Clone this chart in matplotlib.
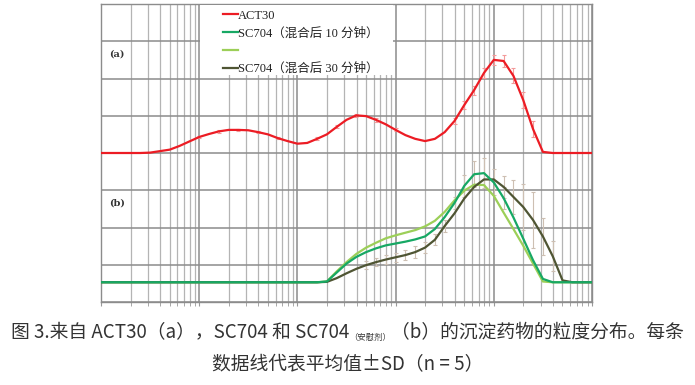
import numpy as np
import matplotlib
matplotlib.use('Agg')
import matplotlib.pyplot as plt
from matplotlib.lines import Line2D
from matplotlib.patches import Rectangle
from matplotlib.ticker import LogLocator, NullFormatter

# particle size bins (10 per decade, um) and volume fractions
bins = np.logspace(-2, 3, 51)

act30 = [0, 0, 0, 0, 0, 0.01, 0.05, 0.09, 0.19, 0.31,
         0.43, 0.51, 0.58, 0.62, 0.62, 0.61, 0.56, 0.50, 0.40, 0.32,
         0.25, 0.27, 0.38, 0.50, 0.70, 0.89, 1.01, 0.99, 0.89, 0.77,
         0.62, 0.48, 0.38, 0.32, 0.38, 0.56, 0.86, 1.29, 1.69, 2.15,
         2.50, 2.47, 2.07, 1.42, 0.64, 0.03, 0, 0, 0, 0, 0]
sc704_10 = [0] * 23 + [0.02, 0.26, 0.50, 0.68, 0.81, 0.91, 0.99,
                       1.04, 1.09, 1.15, 1.23, 1.43, 1.75, 2.13, 2.59, 2.90, 2.93,
                       2.68, 2.26, 1.74, 1.17, 0.59, 0.09, 0, 0, 0, 0, 0]
sc704_placebo = [0] * 23 + [0.02, 0.29, 0.54, 0.76, 0.93, 1.06, 1.18,
                            1.26, 1.33, 1.40, 1.50, 1.65, 1.89, 2.20, 2.46, 2.62, 2.61,
                            2.32, 1.87, 1.43, 0.98, 0.50, 0.02, 0, 0, 0, 0, 0]
sc704_30 = [0] * 23 + [0.01, 0.11, 0.24, 0.36, 0.46, 0.54, 0.61,
                       0.67, 0.73, 0.81, 0.93, 1.14, 1.51, 1.85, 2.25, 2.56, 2.76,
                       2.76, 2.56, 2.29, 2.02, 1.67, 1.23, 0.70, 0.05, 0, 0, 0]

# error bars (bin index, SD)
act30_err_idx = [10, 12, 14, 16, 18, 22, 24, 26, 28, 30, 36, 37, 38, 39, 40, 41, 42, 43, 44]
act30_sd = [0.03, 0.03, 0.03, 0.03, 0.03, 0.04, 0.04, 0.05, 0.05, 0.04,
            0.08, 0.10, 0.12, 0.14, 0.13, 0.15, 0.20, 0.22, 0.22]
sc10_err_idx = [36, 37, 38, 39, 40, 41]
sc10_sd = [0.15, 0.30, 0.35, 0.40, 0.35, 0.30]
sc30_err_idx = [27, 28, 29, 30, 31, 32, 33, 34, 35, 41, 42, 43, 44, 45, 46]
sc30_sd = [0.10, 0.10, 0.12, 0.12, 0.14, 0.15, 0.15, 0.15, 0.15, 0.30, 0.45, 0.62, 0.75, 0.50, 0.40]

labels = ['ACT30', 'SC704（混合后 10 分钟）', '', 'SC704（混合后 30 分钟）']
caption1a = '图 3.来自 ACT30（a），SC704 和 SC704'
caption1b = '（安慰剂）'
caption1c = '（b）的沉淀药物的粒度分布。每条'
caption2 = '数据线代表平均值±SD（n = 5）'

RED = '#ec1c24'
TEAL = '#17a864'
LIGHT = '#9ccf58'
OLIVE = '#4f5533'
off_a = 4.0
off_b = 0.53

fig = plt.figure(figsize=(6.95, 3.85), dpi=100)
ax = fig.add_axes([101 / 695, 83 / 385, 491 / 695, 298 / 385])
ax.set_xscale('log')
ax.set_xlim(bins[0], bins[-1])
ax.set_ylim(0, 8)

ax.xaxis.set_major_locator(LogLocator(base=10))
ax.xaxis.set_minor_locator(LogLocator(base=10, subs=np.arange(2, 10)))
ax.xaxis.set_major_formatter(NullFormatter())
ax.xaxis.set_minor_formatter(NullFormatter())
ax.set_yticks(np.arange(0, 9, 1))
ax.set_yticklabels([])
ax.grid(which='major', color='#8c8c8c', lw=1.1)
ax.grid(which='minor', axis='x', color='#b4b4b4', lw=0.9)
ax.tick_params(axis='x', which='both', direction='out', color='#999999', length=3)
ax.tick_params(axis='y', which='both', length=0)
for s in ax.spines.values():
    s.set_color('#8c8c8c')
    s.set_linewidth(1.0)
ax.set_axisbelow(True)

a30 = np.array(act30) + off_a
s10 = np.array(sc704_10) + off_b
spl = np.array(sc704_placebo) + off_b
s30 = np.array(sc704_30) + off_b

ax.errorbar(bins[act30_err_idx], a30[act30_err_idx], yerr=act30_sd, fmt='none',
            ecolor='#f39a9a', elinewidth=0.8, capsize=1.5, capthick=0.8, zorder=2)
ax.errorbar(bins[sc10_err_idx], s10[sc10_err_idx], yerr=sc10_sd, fmt='none',
            ecolor='#cdbfb2', elinewidth=0.8, capsize=1.5, capthick=0.8, zorder=2)
ax.errorbar(bins[sc30_err_idx], s30[sc30_err_idx], yerr=sc30_sd, fmt='none',
            ecolor='#cdbfb2', elinewidth=0.8, capsize=1.5, capthick=0.8, zorder=2)

ax.plot(bins, spl, color=LIGHT, lw=1.6, zorder=3)
ax.plot(bins, s30, color=OLIVE, lw=1.6, zorder=3)
ax.plot(bins, s10, color=TEAL, lw=1.6, zorder=4)
ax.plot(bins, a30, color=RED, lw=1.6, zorder=4)

ax.text(0.0122, 6.65, '(a)', fontsize=7, fontweight='bold', family='DejaVu Serif',
        color='#333333', ha='left', va='center', zorder=5)
ax.text(0.0122, 2.65, '(b)', fontsize=7, fontweight='bold', family='DejaVu Serif',
        color='#333333', ha='left', va='center', zorder=5)

# white legend area like the original
ax.add_patch(Rectangle((0.2016, 0.762), 0.393, 0.236, transform=ax.transAxes,
                       facecolor='white', edgecolor='none', zorder=5))
handles = [Line2D([], [], color=c, lw=1.6) for c in [RED, TEAL, LIGHT, OLIVE]]
leg = ax.legend(handles, labels, loc='upper left', bbox_to_anchor=(0.236, 1.0),
                frameon=False, handlelength=1.2, handletextpad=0.05,
                labelspacing=0.45, borderpad=0.35, borderaxespad=0.1,
                prop={'family': ['Liberation Serif', 'Noto Sans CJK SC'], 'size': 9})
leg.set_zorder(6)
for t in leg.get_texts():
    t.set_color('#222222')

# caption with small subscript
cap_font = ['Noto Sans CJK SC', 'DejaVu Sans']
fig.canvas.draw()
r = fig.canvas.get_renderer()
y1 = 1 - 333 / 385
ta = fig.text(0, y1, caption1a, fontsize=13.5, family=cap_font, color='#333333', va='center')
tb = fig.text(0, y1 - 0.012, caption1b, fontsize=6, family=cap_font, color='#333333', va='center')
tc = fig.text(0, y1, caption1c, fontsize=13.5, family=cap_font, color='#333333', va='center')
wa = ta.get_window_extent(r).width
wb = tb.get_window_extent(r).width
wc = tc.get_window_extent(r).width
W = fig.bbox.width
x0 = (W - (wa + wb + wc)) / 2
ta.set_x(x0 / W)
tb.set_x((x0 + wa) / W)
tc.set_x((x0 + wa + wb) / W)
fig.text(0.5, 1 - 365 / 385, caption2, fontsize=13.5, family=cap_font, color='#333333',
         ha='center', va='center')

fig.savefig('out.png', dpi=100)
